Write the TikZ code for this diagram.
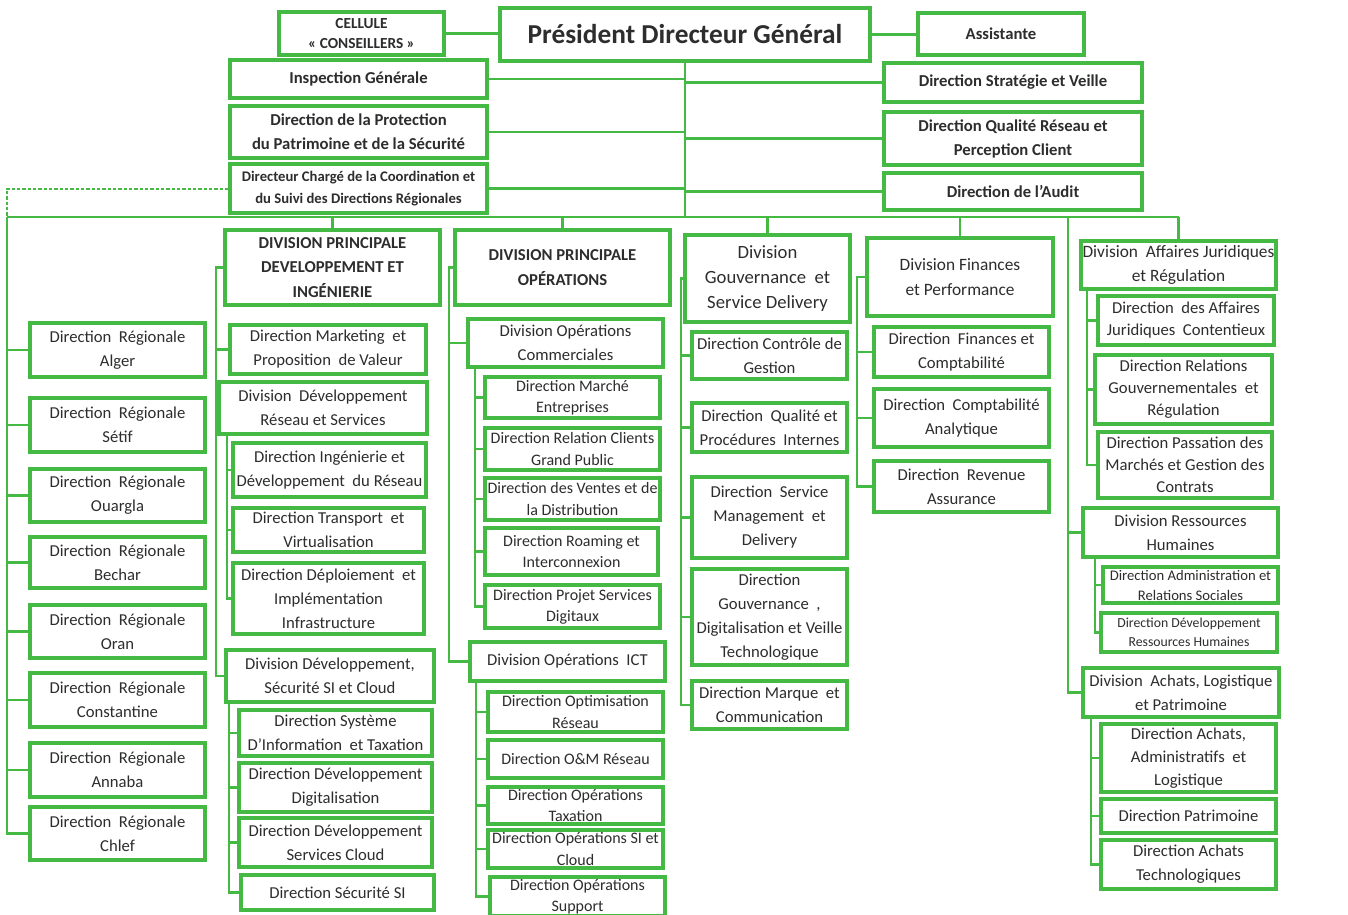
\documentclass[tikz,border=0pt]{standalone}
\usepackage{fontspec}
\setmainfont{Carlito}

\definecolor{orggreen}{RGB}{68,186,68}
\definecolor{txtgrey}{RGB}{45,45,45}

\tikzstyle{box} = [draw=orggreen, line width=2.4pt, fill=white, inner sep=1pt, align=center, text=txtgrey, font=\fontsize{12.5}{18}\selectfont]
\tikzstyle{boldbox} = [box, font=\fontsize{12.5}{18}\selectfont\bfseries]
\tikzstyle{smallbox} = [box, font=\fontsize{12}{16}\selectfont]
\tikzstyle{link} = [draw=orggreen, line width=2.2pt]
\tikzstyle{linkd} = [draw=orggreen, line width=1.5pt, dash pattern=on 2.5pt off 1.5pt]
\tikzset{boxsize/.style 2 args={minimum width=#1*0.75pt, minimum height=#2*0.75pt}}

\begin{document}
\begin{tikzpicture}[x=0.75pt,y=-0.75pt]
\useasboundingbox (0,0) rectangle (1348,914);

% Top management
\node[boldbox, boxsize={370}{53}, font=\fontsize{20.5}{24}\selectfont\bfseries] (pdg) at (685,34.5) {Président Directeur Général};
\node[boldbox, boxsize={165}{43}, font=\fontsize{11.5}{15}\selectfont\bfseries] (cellule) at (361.5,33.5) {CELLULE\\« CONSEILLERS »};
\node[boldbox, boxsize={166}{42}] (assist) at (1001,34) {Assistante};
\node[boldbox, boxsize={257}{38}] (inspect) at (358.5,79) {Inspection Générale};
\node[boldbox, boxsize={257}{52}] (protect) at (358.5,132) {Direction de la Protection\\du Patrimoine et de la Sécurité};
\node[boldbox, boxsize={257}{49}, font=\fontsize{11}{16}\selectfont\bfseries] (charge) at (358.5,188.5) {Directeur Chargé de la Coordination et\\du Suivi des Directions Régionales};
\node[boldbox, boxsize={258}{39}] (strat) at (1013,82.5) {Direction Stratégie et Veille};
\node[boldbox, boxsize={258}{53}] (qualres) at (1013,138.5) {Direction Qualité Réseau et\\Perception Client};
\node[boldbox, boxsize={258}{37}] (audit) at (1013,191.5) {Direction de l'Audit};

% Divisions
\node[boldbox, boxsize={215}{75}, font=\fontsize{12.5}{18.5}\selectfont\bfseries] (dpdev) at (332.5,267.5) {DIVISION PRINCIPALE\\DEVELOPPEMENT ET\\INGÉNIERIE};
\node[boldbox, boxsize={215}{75}, font=\fontsize{12.5}{18.5}\selectfont\bfseries] (dpops) at (562.5,267.5) {DIVISION PRINCIPALE\\OPÉRATIONS};
\node[box, boxsize={165}{87}, font=\fontsize{14}{18.5}\selectfont] (dgouv) at (767.5,278.5) {Division\\Gouvernance\ \ et\\Service Delivery};
\node[box, boxsize={186}{78}, font=\fontsize{13}{19}\selectfont] (dfin) at (960,277) {Division Finances\\et Performance};
\node[box, boxsize={195}{48}, font=\fontsize{13}{18}\selectfont] (dajr) at (1178.5,265) {Division\ \ Affaires Juridiques\\et Régulation};

% Directions regionales
\node[box, boxsize={175}{54}] (alger) at (117.5,350) {Direction\ \ Régionale\\Alger};
\node[box, boxsize={175}{54}] (setif) at (117.5,425) {Direction\ \ Régionale\\Sétif};
\node[box, boxsize={175}{53}] (ouargla) at (117.5,495.5) {Direction\ \ Régionale\\Ouargla};
\node[box, boxsize={175}{51}] (bechar) at (117.5,562.5) {Direction\ \ Régionale\\Bechar};
\node[box, boxsize={175}{53}] (oran) at (117.5,631.5) {Direction\ \ Régionale\\Oran};
\node[box, boxsize={175}{54}] (constantine) at (117.5,700) {Direction\ \ Régionale\\Constantine};
\node[box, boxsize={175}{54}] (annaba) at (117.5,770) {Direction\ \ Régionale\\Annaba};
\node[box, boxsize={175}{53}] (chlef) at (117.5,833.5) {Direction\ \ Régionale\\Chlef};

% Developpement et ingenierie
\node[box, boxsize={196}{49}] (mkt) at (328,349.5) {Direction Marketing\ \ et\\Proposition\ \ de Valeur};
\node[box, boxsize={208}{52}] (dres) at (323,408) {Division\ \ Développement\\Réseau et Services};
\node[box, boxsize={193}{54}] (ingen) at (329.5,470) {Direction Ingénierie et\\Développement\ \ du Réseau};
\node[box, boxsize={191}{44}] (transp) at (328.5,530) {Direction Transport\ \ et\\Virtualisation};
\node[box, boxsize={191}{71}] (deploi) at (328.5,598.5) {Direction Déploiement\ \ et\\Implémentation\\Infrastructure};
\node[box, boxsize={208}{52}] (dsec) at (330,676) {Division Développement,\\Sécurité SI et Cloud};
\node[box, boxsize={193}{46}] (sysinfo) at (335.5,733) {Direction Système\\D'Information\ \ et Taxation};
\node[box, boxsize={193}{49}] (digit) at (335.5,787.5) {Direction Développement\\Digitalisation};
\node[box, boxsize={193}{49}] (cloud) at (335.5,842.5) {Direction Développement\\Services Cloud};
\node[box, boxsize={193}{35}] (secsi) at (337.5,892.5) {Direction Sécurité SI};

% Operations
\node[box, boxsize={195}{48}] (opcom) at (565.5,343) {Division Opérations\\Commerciales};
\node[smallbox, boxsize={175}{41}] (marche) at (572.5,397.5) {Direction Marché\\Entreprises};
\node[smallbox, boxsize={175}{42}] (relcli) at (572.5,449) {Direction Relation Clients\\Grand Public};
\node[smallbox, boxsize={175}{42}] (ventes) at (572.5,499) {Direction des Ventes et de\\la Distribution};
\node[smallbox, boxsize={173}{47}] (roaming) at (571.5,551.5) {Direction Roaming et\\Interconnexion};
\node[smallbox, boxsize={175}{43}] (projet) at (572.5,606.5) {Direction Projet Services\\Digitaux};
\node[box, boxsize={195}{39}] (opict) at (567.5,661.5) {Division Opérations\ \ ICT};
\node[smallbox, boxsize={175}{40}] (optim) at (575.5,712) {Direction Optimisation\\Réseau};
\node[smallbox, boxsize={175}{38}] (om) at (575.5,759) {Direction O\&M Réseau};
\node[smallbox, boxsize={175}{37}] (optax) at (575.5,805.5) {Direction Opérations\\Taxation};
\node[smallbox, boxsize={175}{38}] (opsi) at (575.5,849) {Direction Opérations SI et\\Cloud};
\node[smallbox, boxsize={175}{39}] (opsup) at (577.5,896.5) {Direction Opérations\\Support};

% Gouvernance
\node[box, boxsize={155}{47}] (ctrl) at (769.5,355.5) {Direction Contrôle de\\Gestion};
\node[box, boxsize={155}{49}] (qpi) at (769.5,427.5) {Direction\ \ Qualité et\\Procédures\ \ Internes};
\node[box, boxsize={155}{81}] (smd) at (769.5,517.5) {Direction\ \ Service\\Management\ \ et\\Delivery};
\node[box, boxsize={155}{96}] (gdv) at (769.5,617) {Direction\\Gouvernance\ \ ,\\Digitalisation et Veille\\Technologique};
\node[box, boxsize={155}{48}] (marque) at (769.5,705) {Direction Marque\ \ et\\Communication};

% Finances
\node[box, boxsize={175}{50}] (fincomp) at (961.5,352) {Direction\ \ Finances et\\Comptabilité};
\node[box, boxsize={175}{58}] (compana) at (961.5,418) {Direction\ \ Comptabilité\\Analytique};
\node[box, boxsize={175}{51}] (revass) at (961.5,486.5) {Direction\ \ Revenue\\Assurance};

% Juridique, RH, achats
\node[box, boxsize={176}{49}, font=\fontsize{12.5}{16.5}\selectfont] (contx) at (1186,320.5) {Direction\ \ des Affaires\\Juridiques\ \ Contentieux};
\node[box, boxsize={177}{69}, font=\fontsize{12.5}{16.5}\selectfont] (relgouv) at (1183.5,389.5) {Direction Relations\\Gouvernementales\ \ et\\Régulation};
\node[box, boxsize={174}{66}, font=\fontsize{12.5}{16.5}\selectfont] (passat) at (1185,465) {Direction Passation des\\Marchés et Gestion des\\Contrats};
\node[box, boxsize={195}{49}] (drh) at (1180.5,532.5) {Division Ressources\\Humaines};
\node[box, boxsize={175}{36}, font=\fontsize{11}{15}\selectfont] (admin) at (1190.5,585) {Direction Administration et\\Relations Sociales};
\node[box, boxsize={176}{39}, font=\fontsize{10.3}{14.5}\selectfont] (devrh) at (1189,632.5) {Direction Développement\\Ressources Humaines};
\node[box, boxsize={196}{49}] (dachat) at (1181,692.5) {Division\ \ Achats, Logistique\\et Patrimoine};
\node[box, boxsize={175}{68}, font=\fontsize{12.5}{17}\selectfont] (achadm) at (1188.5,758) {Direction Achats,\\Administratifs\ \ et\\Logistique};
\node[box, boxsize={175}{34}] (patri) at (1188.5,816) {Direction Patrimoine};
\node[box, boxsize={175}{49}] (achtech) at (1188.5,864.5) {Direction Achats\\Technologiques};

% Links from the PDG
\coordinate (busL) at (7,217);
\coordinate (busR) at (1179,217);
\draw[link] (cellule.east) -- (cellule.east -| pdg.west);
\draw[link] (pdg.east) -- (pdg.east -| assist.west);
\draw[link] (pdg.south) -- (pdg.south |- busL);
\draw[link] (busL) -- (busR);
\foreach \n in {inspect,protect,charge}
  \draw[link] (\n.east) -- (\n.east -| pdg.south);
\foreach \n in {strat,qualres,audit}
  \draw[link] (\n.west) -- (\n.west -| pdg.south);
\draw[linkd] (charge.west) -| (busL);
\foreach \n in {dpdev,dpops,dgouv,dfin,dajr}
  \draw[link] (\n.north |- busL) -- (\n.north);

% Regions
\draw[link] (busL) |- (chlef.west);
\foreach \n in {alger,setif,ouargla,bechar,oran,constantine,annaba}
  \draw[link] (\n.west -| busL) -- (\n.west);

% Developpement et ingenierie
\coordinate (vdev) at (216,0);
\coordinate (vres) at (227,0);
\coordinate (vsec) at (229,0);
\draw[link] (dpdev.west) -| (vdev |- dsec.west) -- (dsec.west);
\foreach \n in {mkt,dres}
  \draw[link] (\n.west -| vdev) -- (\n.west);
\draw[link] (vres |- dres.south) |- (deploi.west);
\foreach \n in {ingen,transp}
  \draw[link] (\n.west -| vres) -- (\n.west);
\draw[link] (vsec |- dsec.south) |- (secsi.west);
\foreach \n in {sysinfo,digit,cloud}
  \draw[link] (\n.west -| vsec) -- (\n.west);

% Operations
\coordinate (vops) at (449,0);
\coordinate (vcom) at (475,0);
\coordinate (vict) at (476,0);
\draw[link] (dpops.west) -| (vops |- opict.west) -- (opict.west);
\draw[link] (opcom.west -| vops) -- (opcom.west);
\draw[link] (vcom |- opcom.south) |- (projet.west);
\foreach \n in {marche,relcli,ventes,roaming}
  \draw[link] (\n.west -| vcom) -- (\n.west);
\draw[link] (vict |- opict.south) |- (opsup.west);
\foreach \n in {optim,om,optax,opsi}
  \draw[link] (\n.west -| vict) -- (\n.west);

% Gouvernance
\coordinate (vgouv) at (681,0);
\draw[link] (dgouv.west) -| (vgouv |- marque.west) -- (marque.west);
\foreach \n in {ctrl,qpi,smd,gdv}
  \draw[link] (\n.west -| vgouv) -- (\n.west);

% Finances
\coordinate (vfin) at (857,0);
\draw[link] (dfin.west) -| (vfin |- revass.west) -- (revass.west);
\foreach \n in {fincomp,compana}
  \draw[link] (\n.west -| vfin) -- (\n.west);

% Juridique, RH, achats
\coordinate (vright) at (1068,217);
\coordinate (vajr) at (1087,0);
\coordinate (vrh) at (1095,0);
\coordinate (vach) at (1091,0);
\draw[link] (vright) |- (dachat.west);
\draw[link] (drh.west -| vright) -- (drh.west);
\draw[link] (vajr |- dajr.south) |- (passat.west);
\foreach \n in {contx,relgouv}
  \draw[link] (\n.west -| vajr) -- (\n.west);
\draw[link] (vrh |- drh.south) |- (devrh.west);
\draw[link] (admin.west -| vrh) -- (admin.west);
\draw[link] (vach |- dachat.south) |- (achtech.west);
\foreach \n in {achadm,patri}
  \draw[link] (\n.west -| vach) -- (\n.west);

\end{tikzpicture}
\end{document}
